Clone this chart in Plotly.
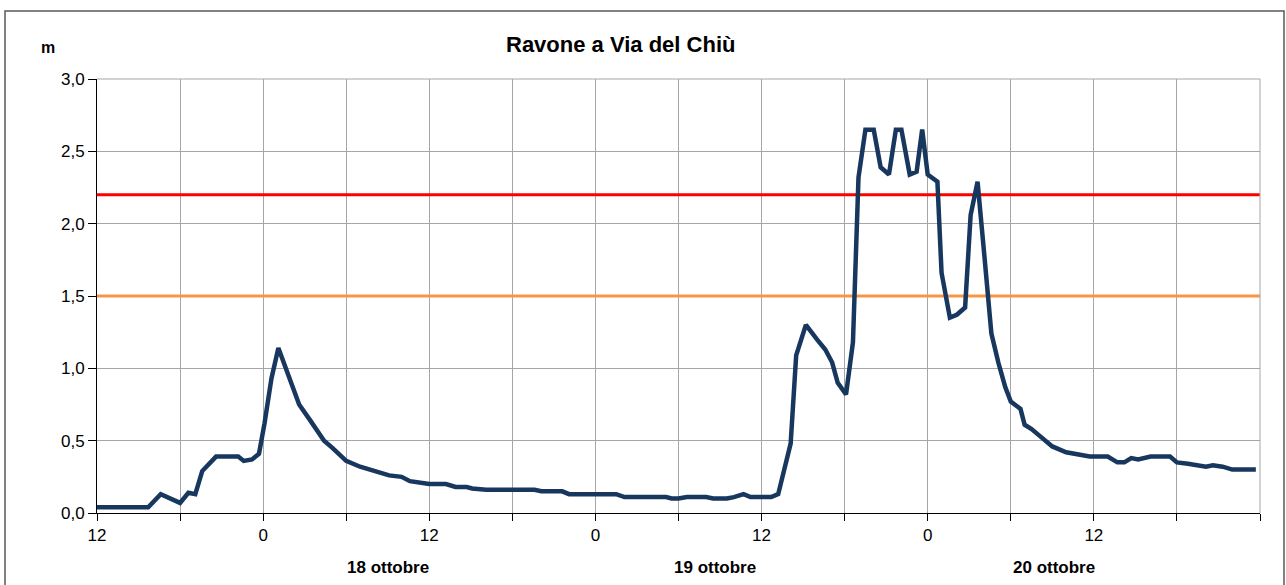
import plotly.graph_objects as go

# hours since 17 ottobre 12:00
hours = [0, 3.7, 4.6, 6.0, 6.6, 7.1, 7.6, 8.6, 10.2, 10.6, 11.2, 11.7, 12.1, 12.6, 13.1,
         13.7, 14.2, 14.6, 15.4, 16.4, 17.0, 17.5, 18.0, 19.0, 20.4, 21.1, 22.0, 22.6, 24.0,
         25.2, 25.9, 26.7, 27.1, 28.1, 29.3, 31.6, 32.1, 33.6, 34.1, 37.5, 38.1, 41.1, 41.5,
         42.0, 42.6, 44.0, 44.5, 45.5, 46.0, 46.7, 47.2, 48.7, 49.2, 49.7, 50.1, 50.5, 51.2,
         52.0, 52.6, 53.1, 53.5, 54.1, 54.6, 55.0, 55.5, 56.1, 56.6, 57.2, 57.7, 58.1, 58.7,
         59.2, 59.6, 60.0, 60.7, 61.0, 61.6, 62.1, 62.7, 63.1, 63.6, 64.1, 64.6, 65.1, 65.6,
         66.0, 66.7, 67.0, 67.5, 68.0, 69.0, 70.0, 70.7, 71.7, 73.0, 73.7, 74.2, 74.7, 75.2,
         76.1, 77.5, 78.0, 78.8, 79.3, 80.1, 80.6, 81.3, 82.0, 83.7]
livello = [0.04, 0.04, 0.13, 0.07, 0.14, 0.13, 0.29, 0.39, 0.39, 0.36, 0.37, 0.41, 0.62, 0.93, 1.14,
           0.98, 0.85, 0.75, 0.64, 0.50, 0.45, 0.40, 0.36, 0.32, 0.28, 0.26, 0.25, 0.22, 0.20,
           0.20, 0.18, 0.18, 0.17, 0.16, 0.16, 0.16, 0.15, 0.15, 0.13, 0.13, 0.11, 0.11, 0.10,
           0.10, 0.11, 0.11, 0.10, 0.10, 0.11, 0.13, 0.11, 0.11, 0.13, 0.32, 0.48, 1.09, 1.30,
           1.20, 1.13, 1.04, 0.90, 0.82, 1.18, 2.32, 2.65, 2.65, 2.39, 2.34, 2.65, 2.65, 2.34,
           2.36, 2.65, 2.34, 2.29, 1.66, 1.35, 1.37, 1.42, 2.06, 2.29, 1.77, 1.24, 1.04, 0.87,
           0.77, 0.72, 0.61, 0.58, 0.54, 0.46, 0.42, 0.41, 0.39, 0.39, 0.35, 0.35, 0.38, 0.37,
           0.39, 0.39, 0.35, 0.34, 0.33, 0.32, 0.33, 0.32, 0.30, 0.30]

soglia_rossa = 2.2
soglia_arancio = 1.5

tick_hours = [0, 6, 12, 18, 24, 30, 36, 42, 48, 54, 60, 66, 72, 78, 84]
tick_text = ["12", "", "0", "", "12", "", "0", "", "12", "", "0", "", "12", "", ""]
day_labels = ["18 ottobre", "19 ottobre", "20 ottobre"]
day_label_hours = [21.0, 44.6, 69.1]

x_end = 84

fig = go.Figure()
fig.add_trace(go.Scatter(x=[0, x_end], y=[soglia_arancio, soglia_arancio], mode="lines",
                         line=dict(color="#F79646", width=3), hoverinfo="skip"))
fig.add_trace(go.Scatter(x=[0, x_end], y=[soglia_rossa, soglia_rossa], mode="lines",
                         line=dict(color="#FF0000", width=3), hoverinfo="skip"))
fig.add_trace(go.Scatter(x=hours, y=livello, mode="lines",
                         line=dict(color="#17375E", width=4.5)))

fig.update_layout(
    width=1286, height=585,
    margin=dict(l=97, r=26, t=79, b=72),
    paper_bgcolor="white", plot_bgcolor="white",
    showlegend=False,
    separators=",.",
    font=dict(family="Liberation Sans, Arial, sans-serif", color="black", size=14),
)
fig.update_xaxes(range=[0, x_end], tickvals=tick_hours, ticktext=tick_text,
                 showgrid=True, gridcolor="#A6A6A6", gridwidth=1,
                 showline=True, linecolor="black", linewidth=1,
                 ticks="outside", ticklen=7, tickcolor="black",
                 tickfont=dict(size=17), zeroline=False, mirror=False)
fig.update_yaxes(range=[0, 3.0], dtick=0.5, tickformat=".1f",
                 showgrid=True, gridcolor="#A6A6A6", gridwidth=1,
                 showline=True, linecolor="black", linewidth=1,
                 ticks="outside", ticklen=8, tickcolor="black",
                 tickfont=dict(size=17), zeroline=False)

# gray top/right frame of plot area
fig.add_shape(type="line", xref="paper", yref="paper", x0=0, x1=1, y0=1, y1=1,
              line=dict(color="#A6A6A6", width=1))
fig.add_shape(type="line", xref="paper", yref="paper", x0=1, x1=1, y0=0, y1=1,
              line=dict(color="#A6A6A6", width=1))

# outer chart border
W = 1286 - 97 - 26
H = 585 - 79 - 72
fig.add_shape(type="rect", xref="paper", yref="paper",
              x0=(5 - 97) / W, x1=(1284 - 97) / W,
              y0=(513 - 600) / H, y1=(513 - 11) / H,
              line=dict(color="#595959", width=1.5), layer="below")

fig.add_annotation(text="<b>Ravone a Via del Chiù</b>", xref="paper", yref="paper",
                   x=(620 - 97) / W, y=(513 - 44) / H, showarrow=False,
                   font=dict(size=22), xanchor="center", yanchor="middle")
fig.add_annotation(text="<b>m</b>", xref="paper", yref="paper",
                   x=(48 - 97) / W, y=(513 - 47) / H, showarrow=False,
                   font=dict(size=16), xanchor="center", yanchor="middle")
for lab, h in zip(day_labels, day_label_hours):
    fig.add_annotation(text="<b>" + lab + "</b>", x=h, xref="x", yref="paper",
                       y=(513 - 567) / H, showarrow=False, font=dict(size=17),
                       xanchor="center", yanchor="middle")

fig.write_html("out.html", config={"displayModeBar": False},
               post_script="document.body.style.margin='0';")
